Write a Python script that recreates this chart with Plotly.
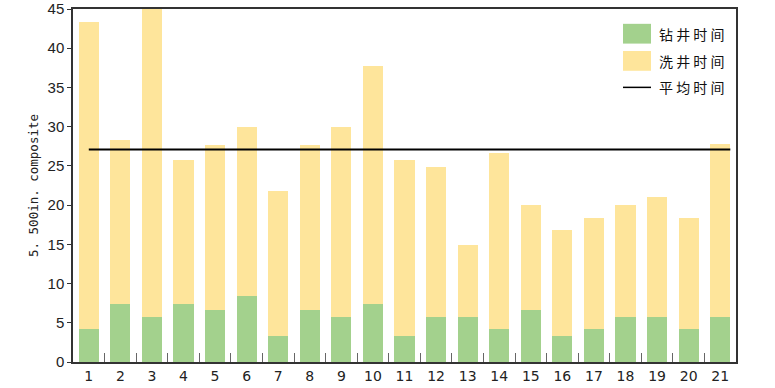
import plotly.graph_objects as go

categories = [str(i) for i in range(1, 22)]
drill_time = [4.2, 7.4, 5.7, 7.4, 6.6, 8.4, 3.3, 6.6, 5.7, 7.4, 3.3,
              5.7, 5.7, 4.2, 6.6, 3.3, 4.2, 5.7, 5.7, 4.2, 5.7]
wash_time = [39.2, 20.9, 39.3, 18.4, 21.0, 21.5, 18.5, 21.0, 24.2, 30.3, 22.5,
             19.2, 9.2, 22.4, 13.4, 13.5, 14.2, 14.3, 15.3, 14.2, 22.1]
avg_time = 27.1
avg_x = [1.0, 21.32]
series_names = ["钻井时间", "洗井时间", "平均时间"]
y_ticks = list(range(0, 50, 5))

GREEN = "#a3d18d"
YELLOW = "#fee59b"

fig = go.Figure()
fig.add_trace(go.Bar(x=categories, y=drill_time, name=series_names[0],
                     marker=dict(color=GREEN, line=dict(width=0)), width=0.64))
fig.add_trace(go.Bar(x=categories, y=wash_time, name=series_names[1],
                     marker=dict(color=YELLOW, line=dict(width=0)), width=0.64))
fig.add_trace(go.Scatter(x=avg_x, y=[avg_time, avg_time], xaxis="x2", mode="lines",
                         name=series_names[2], line=dict(color="black", width=2)))

fig.update_layout(
    width=775, height=388,
    margin=dict(l=73, r=39, t=9, b=26, autoexpand=False),
    barmode="stack",
    bargap=0.36,
    showlegend=False,
    plot_bgcolor="white",
    paper_bgcolor="white",
    font=dict(family="Liberation Sans, Arial", size=14, color="#222"),
    xaxis=dict(type="category", tickson="boundaries", ticks="inside", ticklen=9,
               tickcolor="#666", tickwidth=1, showline=True, linecolor="#333",
               linewidth=1.5, mirror=True, showgrid=False, automargin=False,
               tickfont=dict(family="DejaVu Sans", size=14, color="#222"),
               range=[-0.5, 20.5]),
    xaxis2=dict(overlaying="x", range=[0.5, 21.5], visible=False, showgrid=False),
    yaxis=dict(range=[0, 45], tickvals=y_ticks, ticks="outside", ticklen=4,
               tickcolor="#333", showline=True, linecolor="#333", linewidth=1.5,
               mirror=True, showgrid=False, zeroline=False, automargin=False,
               tickfont=dict(family="Liberation Sans, Arial", size=15, color="#222"),
               title=dict(text="5. 500in. composite", standoff=6,
                          font=dict(family="DejaVu Sans Mono", size=12.5, color="#222"))),
)

# manual legend (large swatches as in the reference)
legend_rows = [(0.93, GREEN, "box"), (0.853, YELLOW, "box"), (0.778, "black", "line")]
x0p = (623 - 73) / (736 - 73)
x1p = (651 - 73) / (736 - 73)
for (yc, col, kind), name in zip(legend_rows, series_names):
    if kind == "box":
        fig.add_shape(type="rect", xref="paper", yref="paper",
                      x0=x0p, x1=x1p, y0=yc - 0.028, y1=yc + 0.028,
                      fillcolor=col, line=dict(width=0))
    else:
        fig.add_shape(type="line", xref="paper", yref="paper",
                      x0=x0p, x1=x1p, y0=yc, y1=yc,
                      line=dict(color=col, width=1.5))
    fig.add_annotation(xref="paper", yref="paper", x=(657 - 73) / (736 - 73), y=yc,
                       xanchor="left", yanchor="middle", showarrow=False,
                       text=" ".join(name),
                       font=dict(family="Noto Sans CJK SC", size=14, color="#111"))

fig.write_html("out.html", config={"displayModeBar": False},
               post_script="document.body.style.margin='0';document.body.style.overflow='hidden';")
